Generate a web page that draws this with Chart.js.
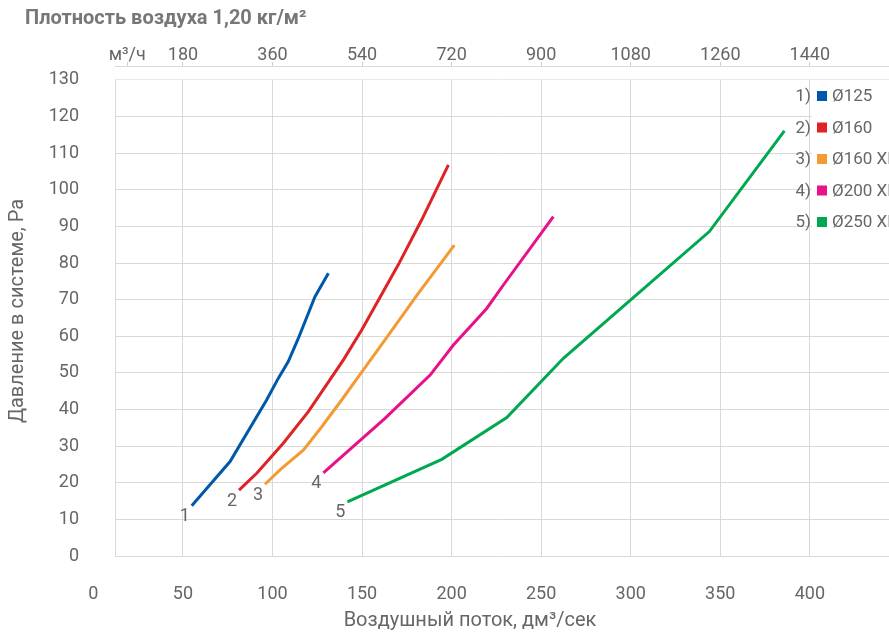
<!DOCTYPE html>
<html lang="ru">
<head>
    <meta charset="UTF-8">
    <title>Плотность воздуха 1,20 кг/м²</title>
    <script src="https://cdn.jsdelivr.net/npm/chart.js"></script>
    <style>
        body { margin: 0; background: #fff; }
    </style>
</head>
<body>
<canvas id="chart" width="889" height="635"></canvas>

<script>
    // values: flow in dm3/s, pressure in Pa
    const seriesNames = ["Ø125", "Ø160", "Ø160 XL", "Ø200 XL", "Ø250 XL"];
    const seriesColors = ["#0059a8", "#de2226", "#f39a33", "#e8118a", "#00a84f"];

    const flow1 = [54.9, 76.3, 96.7, 103.2, 108.8, 114.4, 123.7, 131.2];
    const pres1 = [13.7, 25.8, 42.6, 48.5, 53.1, 59.4, 70.8, 77.2];

    const flow2 = [81.3, 91.2, 106.0, 120.0, 139.5, 149.8, 170.2, 183.3, 198.2];
    const pres2 = [18.0, 22.6, 30.8, 39.4, 53.5, 61.7, 79.5, 91.8, 106.8];

    const flow3 = [95.8, 105.1, 117.2, 127.5, 138.6, 150.7, 162.8, 181.4, 201.5];
    const pres3 = [19.6, 23.9, 28.9, 35.3, 42.6, 50.8, 59.0, 71.7, 84.9];

    const flow4 = [128.4, 162.8, 188.0, 201.0, 219.6, 228.9, 256.8];
    const pres4 = [22.7, 37.6, 49.4, 57.6, 67.6, 74.0, 92.7];

    const flow5 = [141.8, 194.5, 230.8, 262.4, 301.1, 343.9, 385.8];
    const pres5 = [14.8, 26.4, 37.8, 54.0, 70.4, 88.6, 116.1];

    const flowTicks = [0, 50, 100, 150, 200, 250, 300, 350, 400];
    const m3hTicks = [180, 360, 540, 720, 900, 1080, 1260, 1440];
    const m3hUnitTick = 68; // where the "м³/ч" label sits on the top axis
    const pressureTicks = [0, 10, 20, 30, 40, 50, 60, 70, 80, 90, 100, 110, 120, 130];

    const flowMin = 12.06, flowMax = 444.2;
    const presMax = 133.8;

    const flows = [flow1, flow2, flow3, flow4, flow5];
    const pressures = [pres1, pres2, pres3, pres4, pres5];

    const textColor = "#666";
    const gridColor = "#d9d9d9";
    const baseFont = "Roboto, 'Open Sans', sans-serif";

    const datasets = seriesNames.map((name, i) => ({
        label: name,
        data: flows[i].map((x, k) => ({ x: x, y: pressures[i][k] })),
        borderColor: seriesColors[i],
        backgroundColor: seriesColors[i],
        borderWidth: 3,
        pointRadius: 0,
        tension: 0,
        showLine: true,
        fill: false
    }));

    // headline, x title, legend at the right, and curve numbers
    const extras = {
        id: "extras",
        beforeDatasetsDraw(chart) {
            // gap between the top axis line and the plot frame
            const ctx = chart.ctx;
            const area = chart.chartArea;
            const top = chart.scales.y.getPixelForValue(pressureTicks[pressureTicks.length - 1]);
            ctx.save();
            ctx.fillStyle = "#fff";
            ctx.fillRect(area.left - 2, area.top + 1, area.right - area.left + 4, top - area.top - 1.5);
            ctx.restore();
        },
        afterDatasetsDraw(chart) {
            const ctx = chart.ctx;
            ctx.save();
            ctx.font = "18px " + baseFont;
            ctx.fillStyle = textColor;
            ctx.textAlign = "center";
            ctx.textBaseline = "middle";
            chart.data.datasets.forEach((ds, i) => {
                const p = chart.getDatasetMeta(i).data[0];
                ctx.fillText(String(i + 1), p.x - 7, p.y + 11);
            });
            ctx.restore();
        },
        afterDraw(chart) {
            const ctx = chart.ctx;
            ctx.save();

            ctx.font = "bold 20px " + baseFont;
            ctx.fillStyle = "#777";
            ctx.textAlign = "left";
            ctx.textBaseline = "middle";
            ctx.fillText("Плотность воздуха 1,20 кг/м²", 25, 19);

            ctx.font = "20px " + baseFont;
            ctx.fillStyle = textColor;
            ctx.textAlign = "center";
            ctx.fillText("Воздушный поток, дм³/сек", 470, 621);

            // legend box
            ctx.fillStyle = "#fff";
            ctx.fillRect(812, 84, 80, 160);
            ctx.font = "17px " + baseFont;
            chart.data.datasets.forEach((ds, i) => {
                const y = 97 + i * 31.5;
                ctx.fillStyle = textColor;
                ctx.textAlign = "right";
                ctx.fillText((i + 1) + ")", 811, y);
                ctx.fillStyle = ds.borderColor;
                ctx.fillRect(817, y - 6, 10, 10);
                ctx.fillStyle = textColor;
                ctx.textAlign = "left";
                ctx.fillText(ds.label, 832, y);
            });
            ctx.restore();
        }
    };

    new Chart(document.getElementById("chart"), {
        type: "scatter",
        data: { datasets: datasets },
        plugins: [extras],
        options: {
            responsive: false,
            animation: false,
            devicePixelRatio: 1,
            layout: { padding: 0 },
            plugins: {
                legend: { display: false },
                tooltip: { enabled: false }
            },
            scales: {
                x: {
                    type: "linear",
                    position: "bottom",
                    min: flowMin,
                    max: flowMax,
                    afterBuildTicks: (s) => { s.ticks = flowTicks.map(v => ({ value: v })); },
                    afterFit: (s) => { s.height = 79; },
                    grid: {
                        color: (c) => (c.tick && c.tick.value === 0 ? "rgba(0,0,0,0)" : gridColor),
                        drawTicks: false
                    },
                    border: { display: true, color: gridColor },
                    ticks: {
                        autoSkip: false,
                        maxRotation: 0,
                        padding: 28,
                        color: textColor,
                        font: { family: baseFont, size: 18 }
                    }
                },
                x2: {
                    type: "linear",
                    position: "top",
                    min: flowMin * 3.6,
                    max: flowMax * 3.6,
                    afterBuildTicks: (s) => {
                        s.ticks = [m3hUnitTick].concat(m3hTicks).map(v => ({ value: v }));
                    },
                    afterFit: (s) => { s.height = 66; },
                    grid: {
                        drawOnChartArea: false,
                        drawTicks: true,
                        tickLength: 4,
                        color: "#cfcfcf"
                    },
                    border: { display: true, color: gridColor },
                    ticks: {
                        autoSkip: false,
                        maxRotation: 0,
                        padding: -4,
                        color: textColor,
                        font: { family: baseFont, size: 18 },
                        callback: (v) => (v === m3hUnitTick ? "м³/ч" : String(v))
                    }
                },
                y: {
                    type: "linear",
                    position: "left",
                    min: 0,
                    max: presMax,
                    afterBuildTicks: (s) => { s.ticks = pressureTicks.map(v => ({ value: v })); },
                    afterFit: (s) => { s.width = 115; },
                    grid: { color: gridColor, drawTicks: false },
                    border: { display: true, color: gridColor },
                    title: {
                        display: true,
                        text: "Давление в системе, Ра",
                        color: textColor,
                        font: { family: baseFont, size: 20 },
                        padding: { top: 6, bottom: 0 }
                    },
                    ticks: {
                        padding: 36,
                        color: textColor,
                        font: { family: baseFont, size: 18 }
                    }
                }
            }
        }
    });
</script>
</body>
</html>
